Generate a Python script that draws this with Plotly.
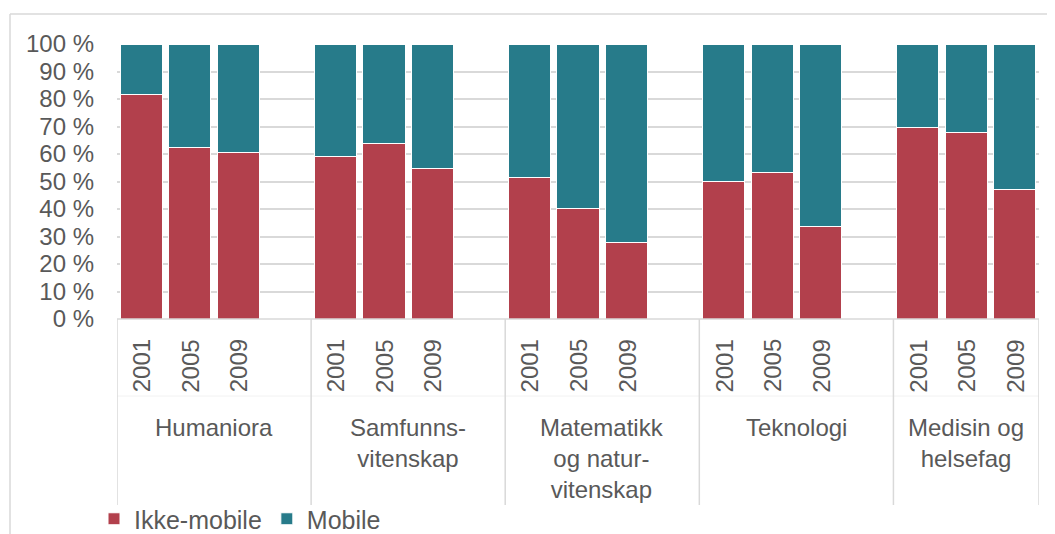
import plotly.graph_objects as go

groups = ["Humaniora", "Samfunns-<br>vitenskap", "Matematikk<br>og natur-<br>vitenskap", "Teknologi", "Medisin og<br>helsefag"]
years = ["2001", "2005", "2009"]
ikke_mobile = [81.6, 62.2, 60.5,
               59.2, 63.9, 54.8,
               51.6, 40.3, 27.8,
               50.0, 53.2, 33.5,
               69.8, 67.9, 47.0]
mobile = [18.4, 37.8, 39.5,
          40.8, 36.1, 45.2,
          48.4, 59.7, 72.2,
          50.0, 46.8, 66.5,
          30.2, 32.1, 53.0]
y_ticks = [0, 10, 20, 30, 40, 50, 60, 70, 80, 90, 100]
y_ticktext = [f"{v} %" for v in y_ticks]

RED = "#B2404C"
TEAL = "#277B8A"
TXT = "#595959"
GRID = "#D9D9D9"
FONT = "Liberation Sans, Arial, sans-serif"

OFF = 8  # page body margin
W, H = 1055 - OFF, 534 - OFF
L = 117 - OFF
T = 44 - OFF
R = W - (1039 - OFF)
B = H - (319 - OFF)
PW, PH = W - L - R, H - T - B

def px(p):
    return (p - OFF - L) / PW

def py(p):
    return (H - B - (p - OFF)) / PH

slots_per_group = len(years) + 1
xpos, labels_year = [], []
for g in range(len(groups)):
    for i, yr in enumerate(years):
        xpos.append(g * slots_per_group + i)
        labels_year.append(yr)
nslots = (len(groups) - 1) * slots_per_group + len(years)

fig = go.Figure()
fig.add_bar(x=xpos, y=ikke_mobile, name="Ikke-mobile", marker_color=RED,
            marker_line=dict(color="white", width=1), width=0.87)
fig.add_bar(x=xpos, y=mobile, name="Mobile", marker_color=TEAL,
            marker_line=dict(color="white", width=1), width=0.87)

shapes = []
# outer chart border (left + top)
shapes.append(dict(type="line", xref="paper", yref="paper", x0=px(10), x1=px(10), y0=py(14), y1=py(545),
                   line=dict(color=GRID, width=1.5)))
shapes.append(dict(type="line", xref="paper", yref="paper", x0=px(10), x1=px(1060), y0=py(14), y1=py(14),
                   line=dict(color=GRID, width=1.5)))
# category axis box
shapes.append(dict(type="line", xref="x", yref="paper", x0=-0.5, x1=nslots - 0.5, y0=0, y1=0,
                   line=dict(color=GRID, width=1.5)))
shapes.append(dict(type="line", xref="x", yref="paper", x0=-0.5, x1=nslots - 0.5, y0=py(396), y1=py(396),
                   line=dict(color="#F2F2F2", width=1)))
edges = [g * slots_per_group - 0.5 for g in range(len(groups))] + [nslots - 0.5]
for e in edges:
    shapes.append(dict(type="line", xref="x", yref="paper", x0=e, x1=e, y0=0, y1=py(505),
                       line=dict(color=GRID, width=1.5)))

annotations = []
for xv, yr in zip(xpos, labels_year):
    annotations.append(dict(x=xv, y=py(366), xref="x", yref="paper", text=yr, textangle=-90,
                            showarrow=False, xanchor="center", yanchor="middle",
                            font=dict(family=FONT, size=24, color=TXT)))
for g, name in enumerate(groups):
    left = edges[g]
    right = edges[g + 1]
    annotations.append(dict(x=(left + right) / 2, y=py(412), xref="x", yref="paper", text=name,
                            showarrow=False, xanchor="center", yanchor="top", align="center",
                            font=dict(family=FONT, size=24, color=TXT)))

fig.update_layout(
    width=W, height=H, barmode="stack",
    margin=dict(l=L, r=R, t=T, b=B, autoexpand=False),
    paper_bgcolor="white", plot_bgcolor="white",
    font=dict(family=FONT, size=24, color=TXT),
    xaxis=dict(range=[-0.5, nslots - 0.5], showticklabels=False, showgrid=False, zeroline=False,
               showline=False, ticks=""),
    yaxis=dict(range=[0, 100], tickvals=y_ticks, ticktext=y_ticktext, showgrid=True,
               gridcolor=GRID, gridwidth=1.5, zeroline=False, showline=False, ticks="",
               ticklabelstandoff=22, tickfont=dict(family=FONT, size=24, color=TXT)),
    legend=dict(orientation="h", x=px(94), xanchor="left", y=py(519), yanchor="middle",
                font=dict(family=FONT, size=25, color=TXT), itemwidth=30, traceorder="normal",
                bgcolor="rgba(0,0,0,0)"),
    shapes=shapes, annotations=annotations, hovermode=False,
)

fig.write_html("out.html")
